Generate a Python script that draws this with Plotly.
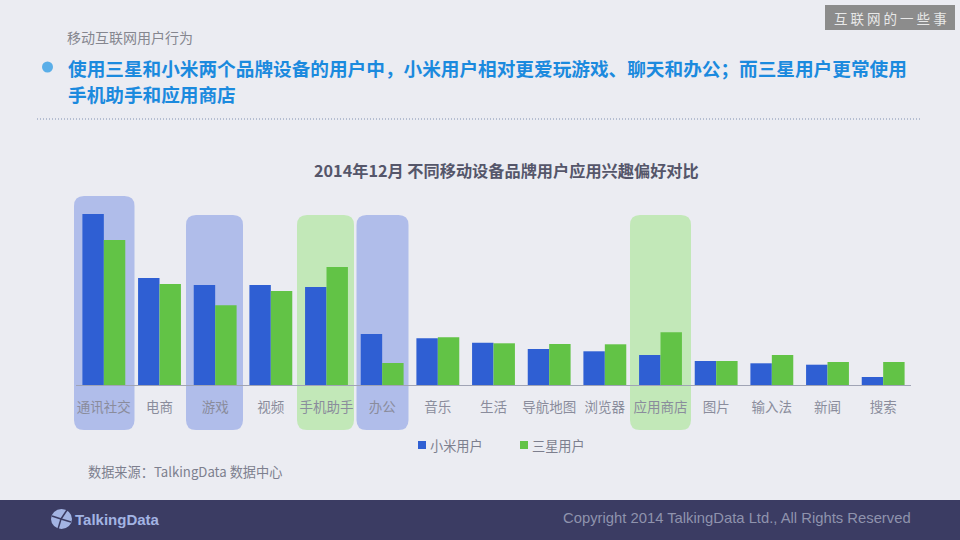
import plotly.graph_objects as go

categories = ["通讯社交", "电商", "游戏", "视频", "手机助手", "办公", "音乐", "生活",
              "导航地图", "浏览器", "应用商店", "图片", "输入法", "新闻", "搜索"]
xiaomi = [171, 107, 100, 100, 98, 51, 46.7, 42.3, 36, 33.7, 30, 24, 21.7, 20.3, 8]
samsung = [145, 101, 79.7, 94, 118, 22, 47.7, 41.7, 41, 40.7, 52.7, 24, 30, 23, 23]
series_names = ["小米用户", "三星用户"]

W, H = 960, 540
CJK = "Noto Sans CJK SC"
BLUE = "#2f5fd3"
GREEN = "#62c346"
BLUE_BOX = "#b0bdea"
GREEN_BOX = "#c2e8b8"
FOOTER = "#3b3c63"


# with zero margins paper coords are just fractions of the page
def px(x):
    return x / W


def py(y):
    return 1 - y / H


def round_box(x0, y0, x1, y1, r, color):
    p = (f"M {px(x0 + r)} {py(y0)} L {px(x1 - r)} {py(y0)} Q {px(x1)} {py(y0)} {px(x1)} {py(y0 + r)} "
         f"L {px(x1)} {py(y1 - r)} Q {px(x1)} {py(y1)} {px(x1 - r)} {py(y1)} "
         f"L {px(x0 + r)} {py(y1)} Q {px(x0)} {py(y1)} {px(x0)} {py(y1 - r)} "
         f"L {px(x0)} {py(y0 + r)} Q {px(x0)} {py(y0)} {px(x0 + r)} {py(y0)} Z")
    return dict(type="path", path=p, xref="paper", yref="paper", fillcolor=color,
                line_width=0, layer="below")


def rect(x0, y0, x1, y1, color):
    return dict(type="rect", xref="paper", yref="paper", x0=px(x0), x1=px(x1), y0=py(y0), y1=py(y1),
                fillcolor=color, line_width=0, layer="below")


def hline(x0, y0, x1, y1, color, width, dash="solid"):
    return dict(type="line", xref="paper", yref="paper", x0=px(x0), x1=px(x1), y0=py(y0), y1=py(y1),
                line=dict(color=color, width=width, dash=dash))


def text(x, y, s, size, color, anchor="left", font=CJK, bold=False):
    if bold:
        s = f"<b>{s}</b>"
    # annotations carry a couple of px of padding, take it back out
    shift = {"left": -2, "right": 2, "center": 0}[anchor]
    return dict(x=px(x), y=py(y), xref="paper", yref="paper", text=s, showarrow=False, xshift=shift,
                xanchor=anchor, yanchor="middle", font=dict(size=size, color=color, family=font))


shapes = [
    rect(0, 500, 960, 540, FOOTER),
    rect(825, 5, 955, 30, "#8c8c8c"),
    round_box(74, 196, 134.5, 430, 10, BLUE_BOX),
    round_box(186, 215, 243, 430, 10, BLUE_BOX),
    round_box(297, 215, 354, 430, 10, GREEN_BOX),
    round_box(356.5, 215, 408.5, 430, 10, BLUE_BOX),
    round_box(630, 215, 691, 430, 10, GREEN_BOX),
    # bullet and dotted rule under the heading
    dict(type="circle", xref="paper", yref="paper", x0=px(42), x1=px(53), y0=py(72.5), y1=py(61.5),
         fillcolor="#5aaee8", line_width=0),
    hline(37, 119, 921, 119, "#7f8fb0", 1, "1px,2px"),
    # legend keys
    rect(418, 441, 426, 449, BLUE),
    rect(520, 441, 528, 449, GREEN),
    # logo
    dict(type="circle", xref="paper", yref="paper", x0=px(51), x1=px(72), y0=py(529), y1=py(509),
         fillcolor="#a3b4e3", line_width=0),
    hline(61, 519, 52, 516, FOOTER, 1.5),
    hline(61, 519, 67, 510, FOOTER, 1.5),
    hline(61, 519, 71, 522, FOOTER, 1.5),
    hline(61, 519, 58, 529, FOOTER, 1.5),
]

annotations = [
    text(67, 37, "移动互联网用户行为", 14, "#85868f"),
    text(68, 68, "使用三星和小米两个品牌设备的用户中，小米用户相对更爱玩游戏、聊天和办公；而三星用户更常使用",
         18.65, "#1b8ade", bold=True),
    text(68, 94, "手机助手和应用商店", 18.65, "#1b8ade", bold=True),
    text(507, 170, "2014年12月 不同移动设备品牌用户应用兴趣偏好对比", 16.2, "#55566a", anchor="center", bold=True),
    text(430, 445, series_names[0], 13.2, "#7d7f8e"),
    text(532, 445, series_names[1], 13.2, "#7d7f8e"),
    text(88, 471, "数据来源：TalkingData 数据中心", 13.2, "#7d7f8e"),
    text(911, 518, "Copyright 2014 TalkingData Ltd., All Rights Reserved", 14.8, "#8f93ad",
         anchor="right", font="Liberation Sans"),
    text(75, 519, "TalkingData", 15, "#a3b4e3", font="Liberation Sans", bold=True),
    text(890, 18, "互 联 网 的 一 些 事", 13.5, "#e8e8e8", anchor="center"),
]

fig = go.Figure()
fig.add_bar(x=categories, y=xiaomi, name=series_names[0], marker_color=BLUE, marker_line_width=0)
fig.add_bar(x=categories, y=samsung, name=series_names[1], marker_color=GREEN, marker_line_width=0)

fig.update_layout(
    width=W, height=H,
    margin=dict(l=0, r=0, t=0, b=0),
    paper_bgcolor="#ebecf2",
    plot_bgcolor="rgba(0,0,0,0)",
    barmode="group", bargap=0.23, bargroupgap=0,
    font=dict(family=CJK),
    showlegend=False,
    shapes=shapes,
    annotations=annotations,
    xaxis=dict(domain=[px(76), px(911)], showline=True, linecolor="#a0a4b5", linewidth=1,
               showgrid=False, ticks="", ticklabelstandoff=10,
               tickfont=dict(size=13.5, color="#8a8c9c", family=CJK)),
    yaxis=dict(domain=[py(385), py(190)], range=[0, 195], visible=False),
)

# drop the browser's default body margin so the chart fills the window
fig.write_html("out.html", config={"displayModeBar": False},
               post_script="document.body.style.margin='0';")
